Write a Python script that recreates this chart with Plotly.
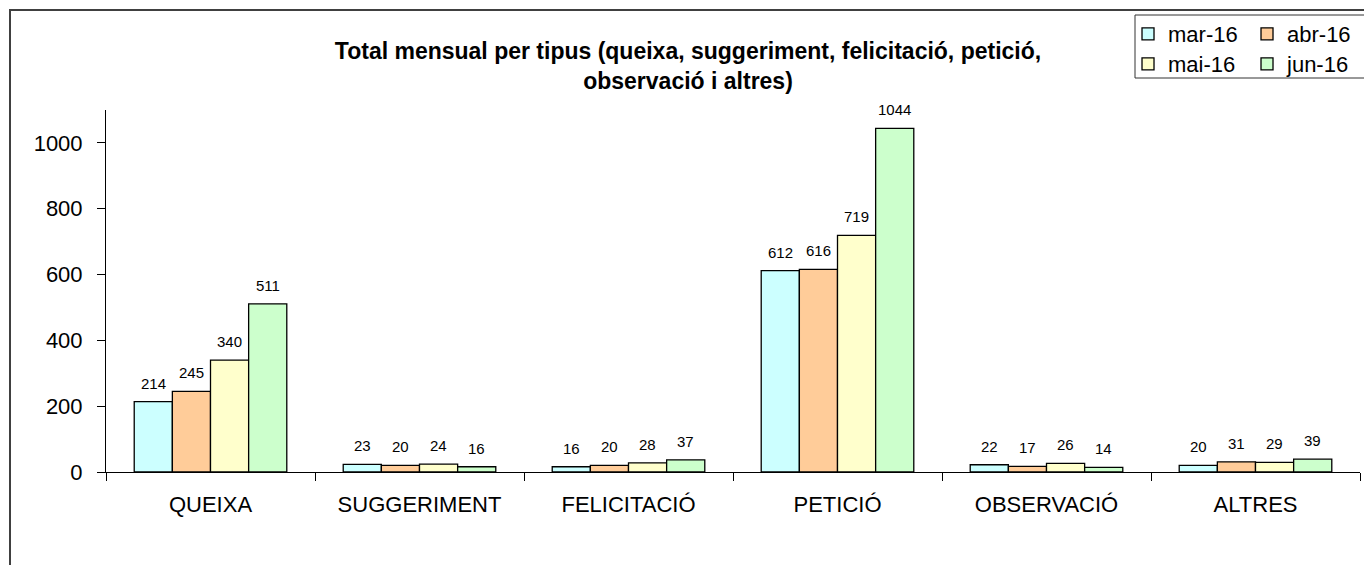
import plotly.graph_objects as go

categories = ["QUEIXA", "SUGGERIMENT", "FELICITACIÓ", "PETICIÓ", "OBSERVACIÓ", "ALTRES"]
months = ["mar-16", "abr-16", "mai-16", "jun-16"]
mar16 = [214, 23, 16, 612, 22, 20]
abr16 = [245, 20, 20, 616, 17, 31]
mai16 = [340, 24, 28, 719, 26, 29]
jun16 = [511, 16, 37, 1044, 14, 39]
y_ticks = [0, 200, 400, 600, 800, 1000]

series = [mar16, abr16, mai16, jun16]
colors = ["#CCFFFF", "#FFCC99", "#FFFFCC", "#CCFFCC"]
legends = ["legend", "legend", "legend2", "legend2"]
FONT = "Liberation Sans, Arial, sans-serif"

# page body has an 8px margin, so the figure is a bit smaller than the window
W, H = 1364, 557
L, R, T, B = 98, 12, 102, 93
BARGAP = 0.27
plot_w = W - L - R
cat_px = plot_w / len(categories)
bar_px = cat_px * (1 - BARGAP) / len(series)

fig = go.Figure()
annotations = []
for i, (name, vals, col, lg) in enumerate(zip(months, series, colors, legends)):
    fig.add_trace(go.Bar(
        x=categories, y=vals, name=name, legend=lg,
        marker=dict(color=col, line=dict(color="black", width=1.3)),
        cliponaxis=False,
    ))
    shift = (i - (len(series) - 1) / 2) * bar_px
    for c, v in zip(categories, vals):
        annotations.append(dict(
            x=c, y=v, xref="x", yref="y", text=str(v), showarrow=False,
            xanchor="center", yanchor="bottom", xshift=shift, yshift=8,
            font=dict(size=15, color="black", family=FONT),
        ))

leg_style = dict(orientation="h", xanchor="left", yanchor="middle",
                 font=dict(size=22, color="black", family=FONT),
                 entrywidth=74, itemwidth=30, bgcolor="rgba(0,0,0,0)",
                 traceorder="normal")

fig.update_layout(
    width=W, height=H,
    margin=dict(l=L, r=R, t=T, b=B, autoexpand=False),
    paper_bgcolor="white", plot_bgcolor="white",
    barmode="group", bargap=BARGAP, bargroupgap=0,
    font=dict(family=FONT, color="black"),
    title=dict(
        text="<b>Total mensual per tipus (queixa, suggeriment, felicitació, petició,<br>observació i altres)</b>",
        x=680 / W, xanchor="center", y=1 - 51 / H, yanchor="middle",
        font=dict(size=23, color="black", family=FONT),
    ),
    legend=dict(leg_style, x=0.815, y=1.21),
    legend2=dict(leg_style, x=0.815, y=1.127),
    annotations=annotations,
    xaxis=dict(
        showline=True, linecolor="black", linewidth=1,
        ticks="outside", ticklen=8, tickcolor="black", tickson="boundaries",
        tickfont=dict(size=22, family=FONT), showgrid=False,
        ticklabelstandoff=13,
    ),
    yaxis=dict(
        range=[0, 1100], tickvals=y_ticks,
        showline=True, linecolor="black", linewidth=1,
        ticks="outside", ticklen=8, tickcolor="black",
        tickfont=dict(size=22, family=FONT), showgrid=False, zeroline=False,
        ticklabelstandoff=10,
    ),
    shapes=[
        # outer chart frame (cut by the window edge on right and bottom)
        dict(type="rect", xref="paper", yref="paper",
             x0=(10 - 106) / 1254, x1=(1400 - 106) / 1254,
             y0=(472 - 600) / 362, y1=(472 - 10) / 362,
             line=dict(color="#404040", width=2), layer="below"),
        # legend box
        dict(type="rect", xref="paper", yref="paper",
             x0=(1135 - 106) / 1254, x1=(1367 - 106) / 1254,
             y0=(472 - 78) / 362, y1=(472 - 15) / 362,
             line=dict(color="#333333", width=1)),
    ],
)

fig.write_html("out.html")
